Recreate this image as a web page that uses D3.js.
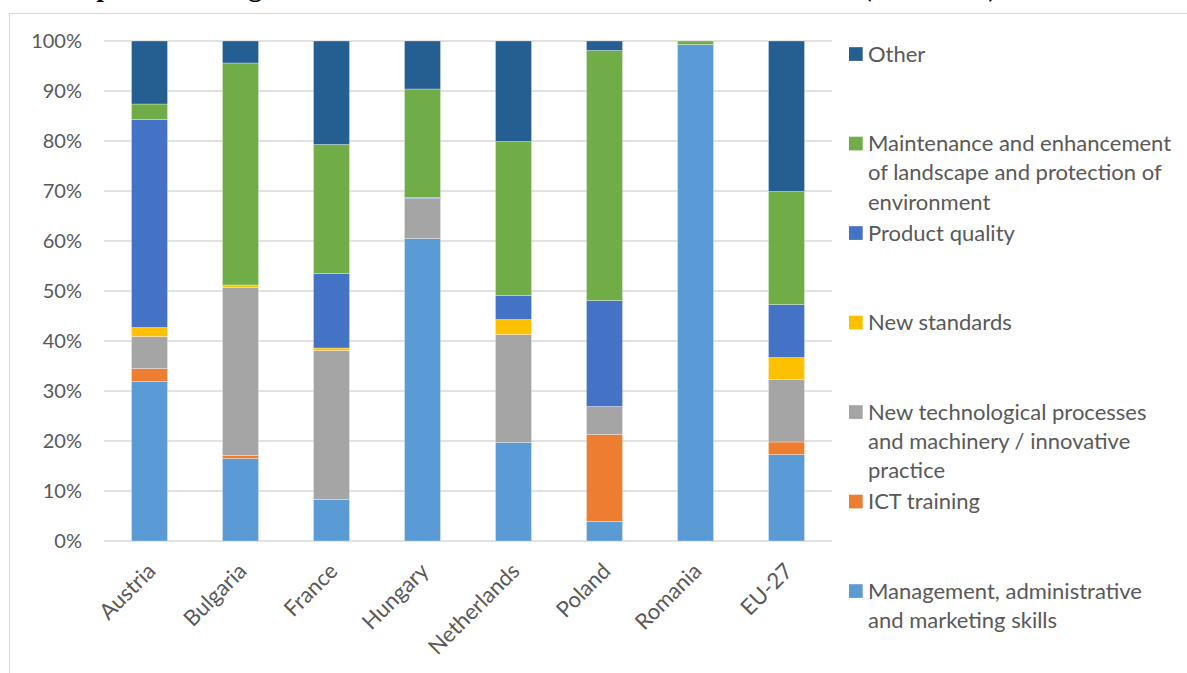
<!DOCTYPE html>
<html>
<head>
<meta charset="utf-8">
<script src="https://cdn.jsdelivr.net/npm/d3@7"></script>
<style>
  html, body { margin: 0; padding: 0; background: #fff; }
  svg { display: block; }
</style>
</head>
<body>
<svg id="chart" width="1187" height="673"></svg>
<script>
// ---- data ----
const categories = ["Austria", "Bulgaria", "France", "Hungary", "Netherlands", "Poland", "Romania", "EU-27"];
const seriesNames = [
  "Management, administrative and marketing skills",
  "ICT training",
  "New technological processes and machinery / innovative practice",
  "New standards",
  "Product quality",
  "Maintenance and enhancement of landscape and protection of environment",
  "Other"
];
const management  = [31.9, 16.5,  8.3, 60.5, 19.7,  3.9, 99.3, 17.3];
const ictTraining = [ 2.6,  0.6,  0.0,  0.0,  0.0, 17.4,  0.0,  2.5];
const newTech     = [ 6.4, 33.6, 29.8,  8.0, 21.6,  5.6,  0.0, 12.5];
const newStandards= [ 1.8,  0.5,  0.5,  0.0,  3.0,  0.0,  0.0,  4.4];
const productQual = [41.6,  0.0, 14.9,  0.2,  4.8, 21.2,  0.0, 10.6];
const maintenance = [ 3.1, 44.4, 25.8, 21.7, 30.8, 50.0,  0.7, 22.6];
const other       = [12.6,  4.4, 20.7,  9.6, 20.1,  1.9,  0.0, 30.1];
const yTicks = [0, 0.1, 0.2, 0.3, 0.4, 0.5, 0.6, 0.7, 0.8, 0.9, 1.0];
const legendLines = {
  "Other": ["Other"],
  "Maintenance and enhancement of landscape and protection of environment":
    ["Maintenance and enhancement", "of landscape and protection of", "environment"],
  "Product quality": ["Product quality"],
  "New standards": ["New standards"],
  "New technological processes and machinery / innovative practice":
    ["New technological processes", "and machinery / innovative", "practice"],
  "ICT training": ["ICT training"],
  "Management, administrative and marketing skills":
    ["Management, administrative", "and marketing skills"]
};
const colors = ["#5B9BD5", "#ED7D31", "#A5A5A5", "#FFC000", "#4472C4", "#70AD47", "#255E91"];
const seriesValues = [management, ictTraining, newTech, newStandards, productQual, maintenance, other];

// ---- build ----
const rows = categories.map((c, i) => {
  const r = { category: c };
  seriesNames.forEach((s, j) => r[s] = seriesValues[j][i]);
  return r;
});
const stacked = d3.stack().keys(seriesNames).offset(d3.stackOffsetExpand)(rows);

const svg = d3.select("#chart");
const font = "Lato, 'Open Sans', sans-serif";
const textColor = "#595959";

// chart border
svg.append("rect").attr("x", 9.5).attr("y", 13.5).attr("width", 1200).attr("height", 700)
  .attr("fill", "none").attr("stroke", "#d9d9d9").attr("stroke-width", 1);

// cropped title (only descenders visible, as in the reference)
svg.append("text")
  .attr("x", 50).attr("y", -4.5)
  .attr("font-family", "'Liberation Serif', 'Times New Roman', serif")
  .attr("font-weight", "bold").attr("font-size", 27).attr("fill", "#000")
  .text("Graph 4: Training focus of measure 111 in the selected Member States (2007-2013)");

const x = d3.scaleBand().domain(categories).range([104, 832]).paddingInner(0.604).paddingOuter(0.302);
const y = d3.scaleLinear().domain([0, 1]).range([541, 41]);

// gridlines
svg.append("g").selectAll("line").data(yTicks).join("line")
  .attr("x1", 104).attr("x2", 832)
  .attr("y1", d => y(d)).attr("y2", d => y(d))
  .attr("stroke", "#d9d9d9").attr("stroke-width", 1.3);

// y labels
svg.append("g").selectAll("text").data(yTicks).join("text")
  .attr("x", 82).attr("y", d => y(d)).attr("dy", "0.35em")
  .attr("text-anchor", "end").attr("font-family", font).attr("font-size", 20)
  .attr("fill", textColor).text(d => d3.format(".0%")(d));

// bars
svg.append("g").selectAll("g").data(stacked).join("g")
  .attr("fill", (d, i) => colors[i])
  .selectAll("rect").data(d => d).join("rect")
  .attr("x", d => x(d.data.category))
  .attr("width", x.bandwidth())
  .attr("y", d => y(d[1]))
  .attr("height", d => Math.max(0, y(d[0]) - y(d[1])))
  .attr("stroke", "#ffffff").attr("stroke-opacity", 0.5).attr("stroke-width", 0.6);

// x labels
svg.append("g").selectAll("text").data(categories).join("text")
  .attr("transform", d => `translate(${x(d) + x.bandwidth() / 2 + 2},${567}) rotate(-45)`)
  .attr("text-anchor", "end").attr("dy", "0.35em")
  .attr("font-family", font).attr("font-size", 22).attr("fill", textColor)
  .text(d => d);

// legend
const legendOrder = seriesNames.slice().reverse();
const ly = d3.scalePoint().domain(legendOrder).range([54, 591]);
const lg = svg.append("g").selectAll("g").data(legendOrder).join("g")
  .attr("transform", d => `translate(849,${ly(d)})`);
lg.append("rect").attr("x", 0).attr("y", -6.8).attr("width", 13.7).attr("height", 13.7)
  .attr("fill", d => colors[seriesNames.indexOf(d)]);
lg.each(function(d) {
  const t = d3.select(this).append("text")
    .attr("font-family", font).attr("font-size", 22).attr("fill", textColor);
  legendLines[d].forEach((line, i) => {
    t.append("tspan").attr("x", 19).attr("y", i * 29.2).attr("dy", "0.35em").text(line);
  });
});
</script>
</body>
</html>
